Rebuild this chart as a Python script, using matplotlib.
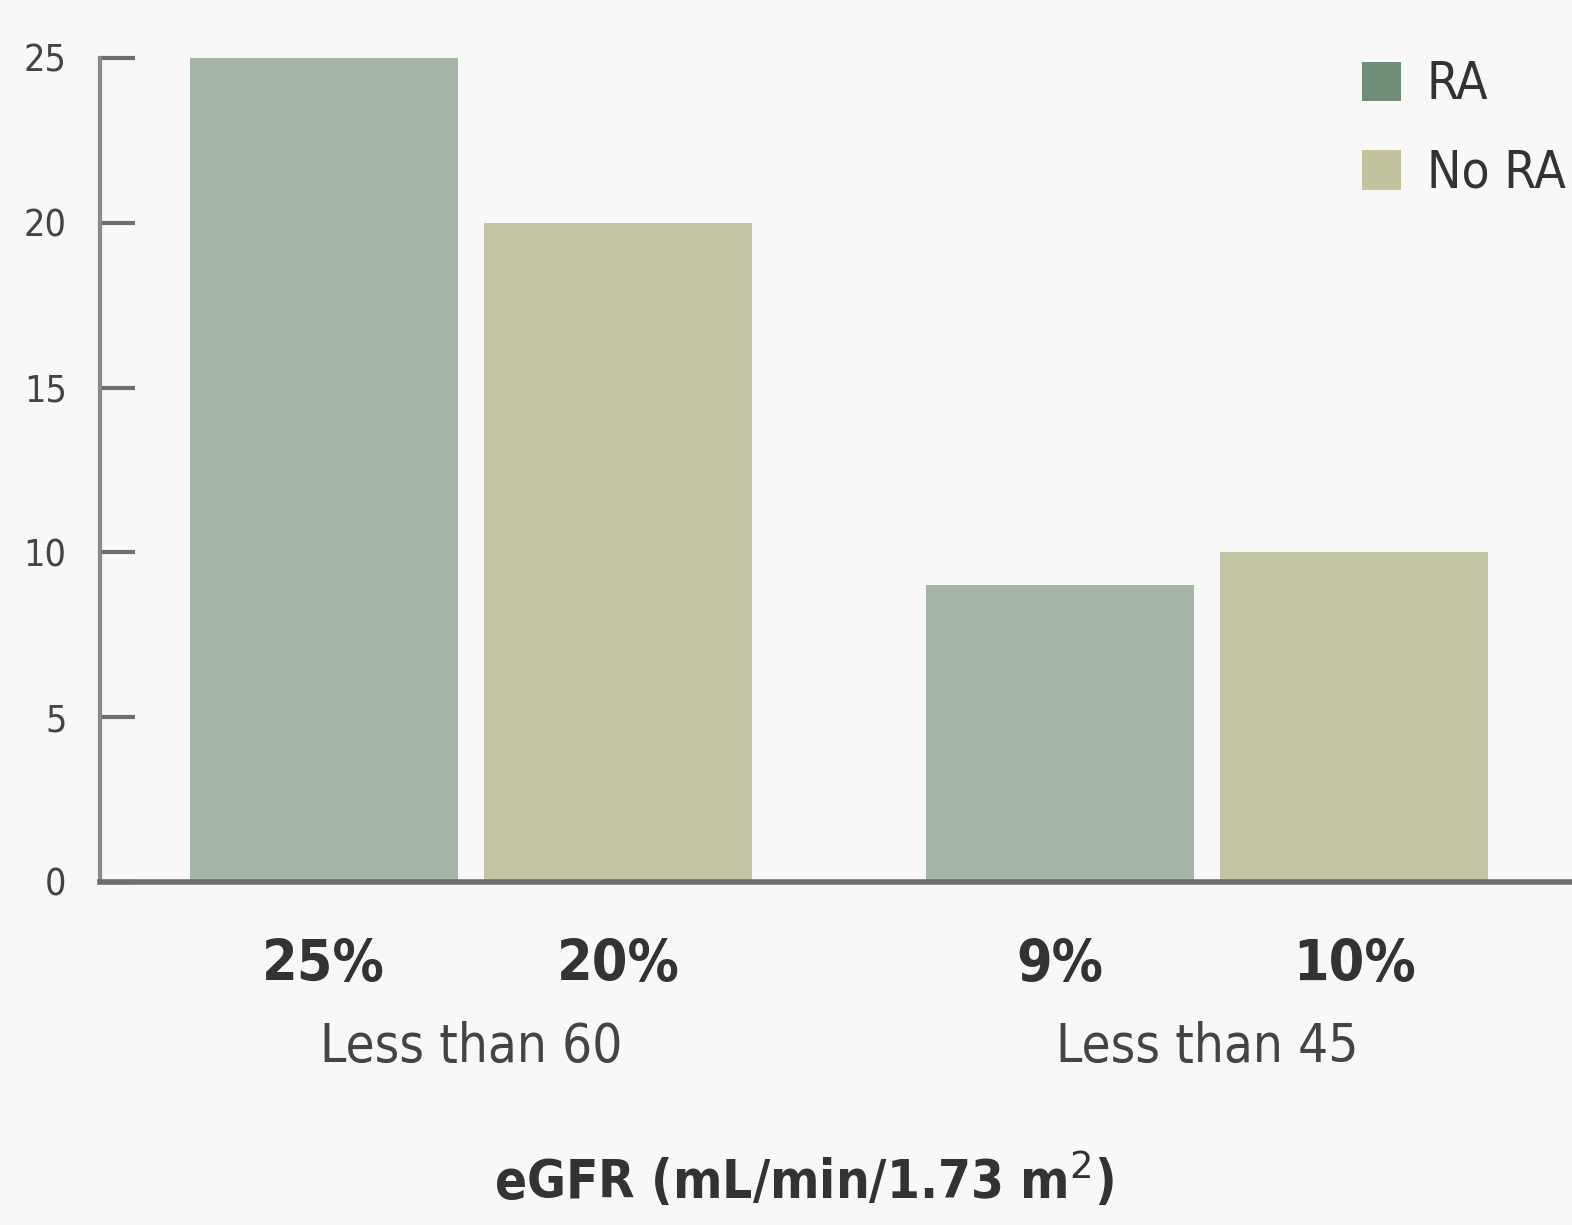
import matplotlib
matplotlib.use("Agg")
import matplotlib.pyplot as plt
import matplotlib.transforms as mtransforms
from matplotlib.patches import Patch
import numpy as np

groups = ["Less than 60", "Less than 45"]
series = ["RA", "No RA"]
ra_values = [25, 9]
nora_values = [20, 10]
yticks = [0, 5, 10, 15, 20, 25]
xlabel = "eGFR (mL/min/1.73 m$^{2}$)"

bar_colors = ["#a5b5a6", "#c3c4a3"]
legend_colors = ["#6f8d77", "#c2c29c"]
bg = "#f8f8f8"

fam = ["DejaVu Sans"]
st = "condensed"

fig = plt.figure(figsize=(15.72, 12.25), dpi=100, facecolor=bg)
ax = fig.add_axes([100/1572, 343/1225, 1 - 100/1572, (1167-343)/1225])
ax.set_facecolor(bg)

x = np.arange(len(groups))
w = 0.364
off = 0.2
ax.bar(x - off, ra_values, w, color=bar_colors[0], zorder=2)
ax.bar(x + off, nora_values, w, color=bar_colors[1], zorder=2)

ax.set_xlim(-0.504, 1.496)
ax.set_ylim(0, 25)
ax.set_yticks(yticks)
ax.set_yticklabels([str(t) for t in yticks], family=fam, stretch=st, fontsize=27, color="#444444")
ax.tick_params(axis="y", direction="in", length=25, width=3, color="#6e6e6e", pad=24)
ax.set_xticks([])

for s in ["top", "right"]:
    ax.spines[s].set_visible(False)
ax.spines["left"].set_color("#8a8a8a")
ax.spines["left"].set_linewidth(3)
ax.spines["bottom"].set_color("#6b706b")
ax.spines["bottom"].set_linewidth(4)

trans = mtransforms.blended_transform_factory(ax.transData, fig.transFigure)
for i in range(len(groups)):
    ax.text(x[i] - off, 1 - 965/1225, f"{ra_values[i]}%", transform=trans, ha="center", va="center",
            family=fam, stretch=st, fontsize=41, fontweight="bold", color="#333333")
    ax.text(x[i] + off, 1 - 965/1225, f"{nora_values[i]}%", transform=trans, ha="center", va="center",
            family=fam, stretch=st, fontsize=41, fontweight="bold", color="#333333")
    ax.text(x[i], 1 - 1047/1225, groups[i], transform=trans, ha="center", va="center",
            family=fam, stretch=st, fontsize=38, color="#444444")

fig.text(804/1572, 1 - 1180/1225, xlabel, ha="center", va="center",
         family=fam, stretch=st, fontsize=38, fontweight="bold", color="#333333")

handles = [Patch(facecolor=legend_colors[0], edgecolor="none"),
           Patch(facecolor=legend_colors[1], edgecolor="none")]
fig.legend(handles, series, loc="upper left", bbox_to_anchor=(1352/1572, 1 - 50/1225),
           frameon=False, prop={"family": fam, "stretch": st, "size": 37}, handlelength=0.75, handleheight=0.8,
           handletextpad=0.5, labelspacing=0.75, labelcolor="#333333", borderaxespad=0, borderpad=0.2)

fig.savefig("out.png", dpi=100, facecolor=bg)
